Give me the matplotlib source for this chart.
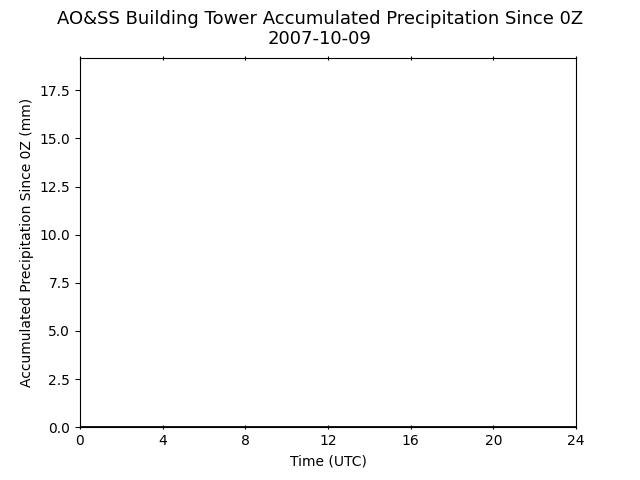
import numpy as np
import matplotlib
matplotlib.use('Agg')
import matplotlib.pyplot as plt

# hourly accumulated precipitation (mm) - no rain that day
hours = [0, 1, 2, 3, 4, 5, 6, 7, 8, 9, 10, 11, 12, 13, 14, 15, 16, 17, 18, 19, 20, 21, 22, 23, 24]
precip = [0.0] * len(hours)
xticks = [0, 4, 8, 12, 16, 20, 24]

fig, ax = plt.subplots(figsize=(6.4, 4.8), dpi=100)
ax.plot(hours, precip, color='black', linewidth=2)
ax.set_xlim(0, 24)
ax.set_ylim(0, 19.2)
ax.set_xticks(xticks)
ax.tick_params(axis='x', direction='inout', top=True)
ax.set_xlabel('Time (UTC)')
ax.set_ylabel('Accumulated Precipitation Since 0Z (mm)')
fig.suptitle('AO&SS Building Tower Accumulated Precipitation Since 0Z\n2007-10-09', fontsize=13)

fig.savefig('out.png')
